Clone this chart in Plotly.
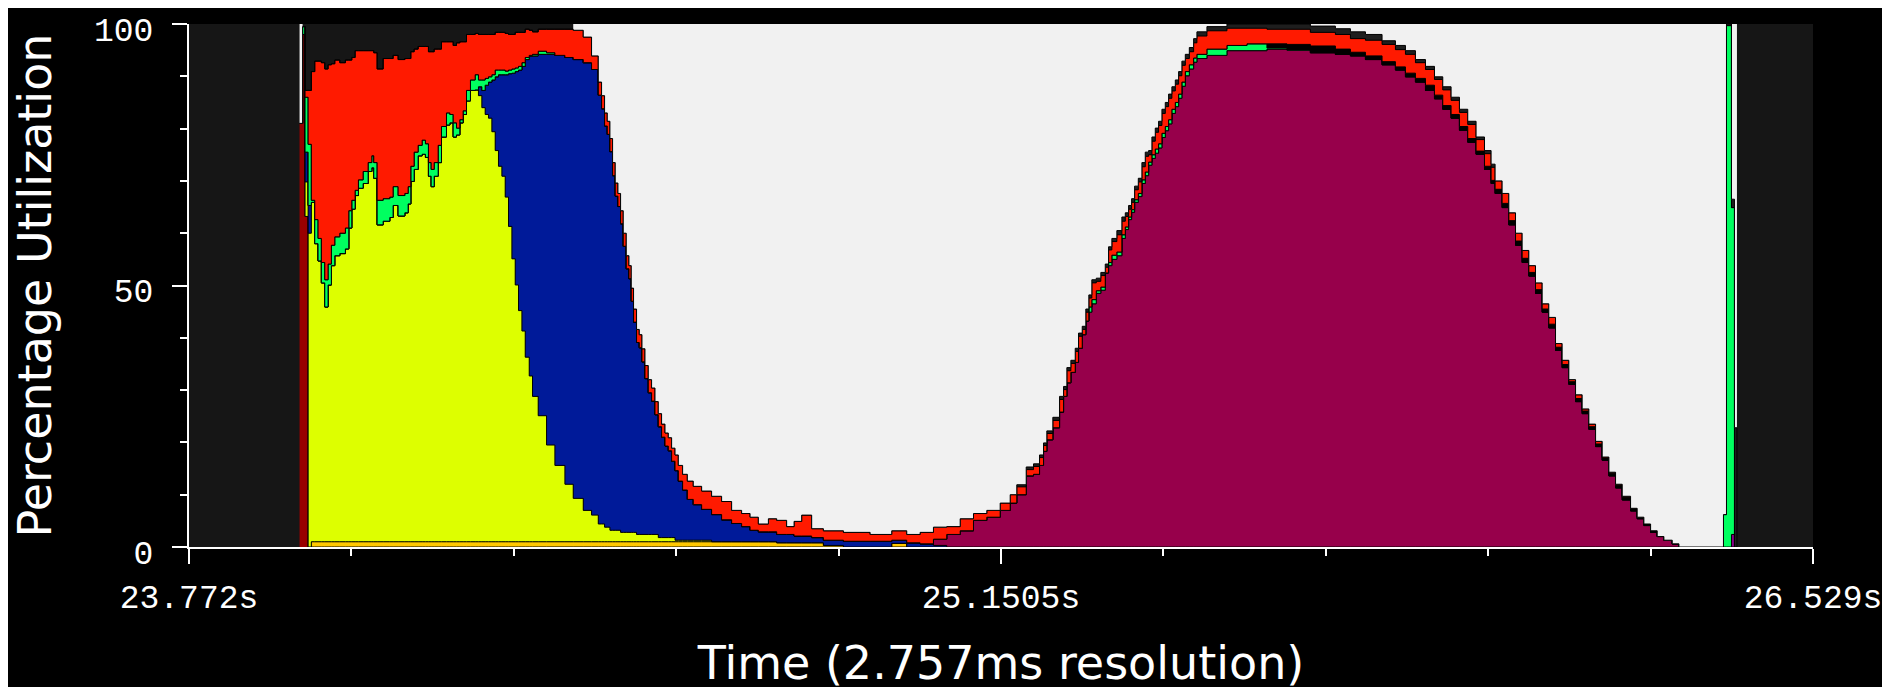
import plotly.graph_objects as go

# ---- data ----
time_s = [
    23.9597, 23.9648, 23.9690, 23.9742, 23.9797, 23.9855, 23.9911, 23.9967, 24.0025, 24.0081,
    24.0137, 24.0195, 24.0280, 24.0375, 24.0433, 24.0484, 24.0540, 24.0596, 24.0676, 24.0761,
    24.0824, 24.0857, 24.0914, 24.1016, 24.1129, 24.1185, 24.1270, 24.1384, 24.1440, 24.1486,
    24.1542, 24.1610, 24.1678, 24.1734, 24.1785, 24.1831, 24.1882, 24.1950, 24.2006, 24.2091,
    24.2149, 24.2205, 24.2261, 24.2318, 24.2374, 24.2431, 24.2498, 24.2578, 24.2634, 24.2692,
    24.2748, 24.2804, 24.2862, 24.2918, 24.2974, 24.3032, 24.3088, 24.3144, 24.3202, 24.3258,
    24.3314, 24.3372, 24.3428, 24.3496, 24.3552, 24.3648, 24.3790, 24.3932, 24.4102, 24.4243,
    24.4413, 24.4554, 24.4668, 24.4724, 24.4775, 24.4821, 24.4866, 24.4911, 24.4956, 24.5002,
    24.5047, 24.5092, 24.5143, 24.5189, 24.5228, 24.5267, 24.5318, 24.5364, 24.5410, 24.5461,
    24.5517, 24.5573, 24.5631, 24.5687, 24.5743, 24.5801, 24.5857, 24.5913, 24.5971, 24.6027,
    24.6100, 24.6180, 24.6281, 24.6423, 24.6592, 24.6762, 24.6932, 24.7102, 24.7245, 24.7386,
    24.7556, 24.7697, 24.7866, 24.7992, 24.8121, 24.8291, 24.8490, 24.8830, 24.9283, 24.9650,
    24.9905, 25.0132, 25.0358, 25.0584, 25.0812, 25.1038, 25.1264, 25.1491, 25.1661, 25.1773,
    25.1933, 25.2057, 25.2159, 25.2227, 25.2283, 25.2385, 25.2499, 25.2567, 25.2623, 25.2691,
    25.2765, 25.2821, 25.2884, 25.2945, 25.2996, 25.3047, 25.3122, 25.3200, 25.3275, 25.3331,
    25.3387, 25.3472, 25.3557, 25.3615, 25.3671, 25.3722, 25.3773, 25.3836, 25.3897, 25.3954,
    25.4011, 25.4067, 25.4124, 25.4180, 25.4237, 25.4294, 25.4350, 25.4406, 25.4464, 25.4520,
    25.4576, 25.4634, 25.4702, 25.4775, 25.4831, 25.5001, 25.5341, 25.5681, 25.6020, 25.6360,
    25.6757, 25.7182, 25.7437, 25.7692, 25.7974, 25.8201, 25.8371, 25.8541, 25.8711, 25.8864,
    25.9005, 25.9146, 25.9288, 25.9429, 25.9570, 25.9713, 25.9825, 25.9893, 26.0012, 26.0126,
    26.0240, 26.0352, 26.0466, 26.0579, 26.0692, 26.0805, 26.0919, 26.1031, 26.1145, 26.1259,
    26.1371, 26.1485, 26.1599, 26.1711, 26.1825, 26.1938, 26.2051, 26.2193, 26.2305, 26.2419,
    26.2533, 26.2645, 26.2759, 26.2900, 26.3014, 26.3770, 26.3821, 26.3906, 26.3957, 26.3999,
]

darkred = [81, 98, 63.2] + [0] * 227

orange = [0, 0, 0, 0] + [1] * 107 + [0.8] * 5 + [0.3, 0, 0, 0.7] + [0] * 110

yellow = [
    0, 0, 6.6, 60.0, 64.9, 57.0, 53.7, 49.5, 44.9, 49.1,
    52.8, 54.7, 55.1, 56.0, 60.0, 63.6, 66.2, 67.6, 68.5, 70.8,
    71.5, 69.5, 60.6, 61.3, 62.0, 64.3, 62.3, 62.9, 64.6, 68.9,
    71.2, 73.8, 74.1, 73.5, 69.9, 67.9, 69.9, 72.5, 77.4, 79.7,
    80.1, 77.4, 77.8, 80.1, 81.7, 84.3, 86.3, 86.4, 85.3, 83.0,
    81.7, 81.0, 78.4, 74.8, 71.8, 69.9, 65.9, 60.3, 54.1, 49.1,
    44.2, 40.3, 35.3, 31.7, 27.8, 24.1, 18.5, 14.6, 11.0, 8.3,
    6.0, 5.1, 3.4, 3.4, 2.8, 2.8, 2.2, 2.2, 2.2, 2.2,
    1.8, 1.8, 1.8, 1.8, 1.8, 1.8, 1.4, 1.4, 1.4, 1.4,
    1.4, 1.4, 1.4, 0.8, 0.8, 0.8, 0.8, 0.8, 0.3, 0.3,
    0.3, 0.3, 0.3, 0.3,
] + [0] * 126

blue = [0, 0, 5.7, 5.3] + [0] * 44 + [
    1.7, 3.3, 5.6, 6.9, 9.9, 14.1, 17.5, 19.4, 23.4, 29.2, 35.5, 40.8,
    46.0, 50.6, 56.9, 61.1, 65.1, 69.1, 74.7, 78.4, 81.6, 83.9,
    85.6, 85.2, 82.0, 79.4, 76.7, 75.1, 72.4, 67.8, 63.9, 61.9,
    59.0, 54.7, 50.4, 48.5, 44.2, 40.2, 36.7, 35.7, 33.0, 29.8,
    27.1, 25.5, 22.9, 21.2, 19.2, 17.5, 16.6, 14.6, 13.3, 11.3,
    9.6, 7.8, 6.8, 5.9, 5.2, 4.2, 3.5, 2.9, 2.2, 1.9,
    1.9, 1.6, 1.6, 1.3, 1.3, 1.0, 1.0, 1.1, 1.1, 0.6,
    0.8, 0.6, 0.3,
] + [0] * 107

maroon = [0] * 122 + [
    1.2, 2.4, 3.1, 5.1, 5.7, 7.0, 8.4, 10.0,
    13.6, 13.9, 15.6, 18.3, 20.5, 22.8, 25.8, 28.8, 31.4, 33.4,
    35.3, 38.0, 40.6, 43.2, 44.9, 46.5, 48.5, 49.1, 52.4, 53.8,
    55.0, 55.7, 59.0, 60.7, 62.6, 64.0, 65.9, 67.0, 69.5, 71.0,
    73.0, 74.3, 75.3, 76.3, 78.3, 79.6, 80.9, 82.9, 84.2, 85.8,
    88.1, 90.1, 91.4, 92.7, 93.4, 94.0, 94.9, 94.9, 95.2, 95.0,
    94.5, 94.2, 93.9, 93.2, 92.2, 91.2, 89.9, 88.9, 87.3, 85.7,
    83.7, 82.0, 79.7, 77.4, 75.1, 72.2, 69.5, 67.6, 64.9, 61.6,
    57.7, 54.4, 51.8, 48.5, 44.9, 41.9, 37.6, 34.3, 31.1, 27.8,
    25.5, 22.5, 19.2, 16.6, 13.6, 11.3, 9.0, 6.9, 5.4, 4.1,
    2.8, 2.0, 1.3, 0.6,
] + [0] * 6

purple = [0] * 227 + [2.4, 0, 0]

green = [
    0, 1.5, 10.5, 11.7, 0.4, 4.6, 4.3, 3.9, 5.2, 4.0,
    3.9, 3.6, 3.9, 4.0, 3.3, 1.7, 1.0, 1.6, 2.3, 1.7,
    2.3, 3.0, 4.7, 4.3, 3.9, 3.6, 3.9, 3.7, 3.3, 2.9,
    3.3, 2.0, 2.7, 2.6, 2.6, 3.3, 2.6, 3.3, 2.0, 2.3,
    1.6, 2.7, 1.3, 0.6, 0.7, 2.0, 2.0, 2.9, 1.3, 2.0,
    1.3, 1.0, 1.0, 1.3, 0.9, 0.9, 0.7, 0.7, 0.8, 0.7,
    0.7, 0.7, 0.4, 0.2, 0.3, 0.6, 0.3,
] + [0] * 77 + [
    1.0, 0.8, 0.5, 0.6, 0, 0.6, 0.8, 0.7, 0.7, 0.5, 0.5, 0.5, 0.5, 0.6, 0.7, 0.7,
    0.6, 0.7, 0.8, 0.8, 0.8, 0.8, 0.8, 0.8, 0.8, 0.8,
    0.8, 0.8, 0.8, 0.8, 0.8, 1.2, 1.0, 1.3, 0.2, 0.1,
] + [0] * 45 + [6.2, 99.7, 62.5, 0, 0]

sys_black = [0] * 178 + [
    0.8, 1.0, 1.3, 1.0, 0.7, 0.7, 0.6, 0.6, 0.7, 0.7, 1.0, 0.7,
    0.7, 0.7, 0.7, 0.7, 0.6, 0.6, 0.6, 0.8, 0.8, 0.8,
    0.8, 0.8, 0.7, 0.7, 0.6, 0.7, 0.6, 0.6, 0.5, 0.6,
    0.5, 0.5, 0.5, 0.4, 0.5, 0.5, 0.5, 0.5, 0.3, 0.3,
    0.3,
] + [0] * 9

red = [
    0, 0, 1.3, 10.3, 24.6, 30.3, 33.9, 38.2, 40.3, 38.1,
    34.7, 33.8, 32.6, 32.1, 28.8, 27.3, 26.7, 24.7, 23.1, 21.4,
    20.1, 21.0, 25.1, 26.8, 26.5, 25.1, 26.0, 25.8, 24.5, 21.9,
    19.7, 18.9, 17.9, 18.6, 21.2, 22.5, 21.7, 18.4, 16.2, 13.6,
    13.9, 14.8, 16.3, 14.9, 13.2, 10.7, 8.7, 7.9, 8.7, 8.7,
    8.4, 8.1, 7.7, 7.2, 7.2, 7.2, 7.2, 6.8, 6.6, 6.8,
    6.5, 5.8, 5.4, 4.8, 4.3, 4.2, 4.5, 5.0, 5.4, 5.6,
    4.9, 2.6, 2.5, 2.5, 2.5, 2.5, 2.5, 2.5, 2.5, 2.5,
    2.5, 2.5, 2.5, 2.5, 2.5, 2.5, 2.5, 2.5, 2.5, 2.5,
    2.5, 2.5, 2.5, 2.5, 2.5, 2.5, 2.5, 2.5, 3.0, 3.0,
    3.0, 3.5, 3.5, 3.5, 3.5, 3.5, 2.5, 2.5, 2.5, 1.5,
    2.5, 2.7, 1.5, 2.8, 4.0, 1.7, 1.8, 1.7, 1.3, 1.8,
    1.6, 2.2, 2.3, 1.5, 2.3, 1.3, 1.3, 1.4, 1.6, 1.5,
    1.2, 1.5, 1.5, 1.1, 1.2, 1.4, 2.4, 1.3, 2.3, 1.7,
    2.1, 2.3, 1.0, 1.7, 1.7, 3.2, 1.8, 2.2, 1.1, 2.4,
    2.6, 3.3, 2.6, 2.0, 1.5, 1.4, 1.9, 2.2, 2.5, 3.0,
    1.4, 2.6, 3.2, 3.5, 3.8, 3.8, 4.1, 3.5, 3.5, 3.5,
    3.2, 2.5, 2.5, 2.9, 3.5, 3.5, 3.3, 3.0, 2.8, 2.9,
    2.6, 2.8, 2.6, 3.0, 3.3, 3.3, 3.6, 3.0, 3.0, 3.0,
    3.0, 2.7, 2.7, 2.7, 2.2, 2.4, 2.5, 1.6, 1.9, 1.5,
    1.5, 1.5, 1.3, 1.3, 1.0, 1.3, 0.7, 0.8, 0.4, 0.7,
    0.4, 0.5, 0.5, 0.2, 0.2, 0.2, 0.2,
] + [0] * 13

other = [0] * 129 + [
    0.4, 0.5, 0.5, 0.5, 0.5, 0.5, 0.6, 0.6, 0.6, 0.6, 0.6,
    0.6, 0.6, 0.6, 0.6, 0.6, 0.6, 0.6, 0.6, 0.6, 0.6,
    0.6, 0.8, 0.8, 0.7, 0.7, 0.7, 0.7, 0.7, 0.8, 0.8,
] + [0.8] * 18 + [
    1.0, 1.0, 1.2, 1.1, 1.3, 1.1, 0.7, 0.8, 0.7, 0.6, 0.6, 0.5,
    0.6, 0.6, 0.6, 0.6, 0.5, 0.6, 0.6,
] + [0] * 29 + [0.3, 1.6, 22.8, 0]

idle = [19] + [0] * 68 + [
    1.2, 2.5, 6.1, 11.1, 13.7, 17.0, 18.6, 21.9, 26.5, 30.4, 32.4,
    35.7, 40.0, 44.3, 46.2, 50.5, 54.5, 58.4, 59.4, 62.1, 65.3,
    68.0, 69.6, 72.2, 74.5, 76.5, 78.2, 79.1, 81.1, 82.4, 84.4,
    86.1, 87.4, 88.4, 89.3, 90.3, 91.3, 93.0, 93.6, 94.3, 95.6,
    94.6, 94.9, 96.1, 95.1, 93.9, 96.5, 96.9, 97.2, 97.6, 96.9,
    97.6, 97.2, 96.2, 96.1, 94.6, 93.6, 93.0, 91.6, 90.0, 88.1,
    84.7, 84.1, 82.4, 80.1, 77.8, 75.2, 71.2, 69.3, 65.7, 64.3,
    62.0, 59.1, 57.8, 54.5, 51.8, 48.9, 48.6, 47.5, 45.9, 42.6,
    41.0, 39.5, 36.9, 36.1, 34.7, 33.4, 31.0, 29.5, 26.5, 24.5,
    24.2, 21.6, 19.9, 18.6, 16.3, 15.0, 13.4, 12.0, 10.7, 9.1,
    7.1, 5.8, 4.5, 2.8, 1.5, 0.5, 0, 0, 0, 0,
    0.4, 0.9, 1.5, 2.0, 3.2, 4.1, 5.1, 6.8, 8.1, 10.1,
    12.0, 14.0, 16.3, 18.6, 21.6, 24.2, 26.8, 30.0, 32.4, 36.1,
    40.0, 43.3, 46.2, 49.5, 53.5, 56.1, 61.1, 64.3, 68.0, 70.9,
    73.6, 76.5, 79.8, 82.8, 85.7, 88.0, 90.3, 92.6, 94.3, 95.6,
    96.9, 98.0, 98.7, 99.4, 100, 93.8, 0, 33.5, 77.2, 0,
]

x_tick_vals = [23.772, 25.1505, 26.529]
x_tick_text = ["23.772s", "25.1505s", "26.529s"]
y_tick_vals = [0, 50, 100]

# stack order bottom -> top: (name, values, colour)
series = [
    ("Dark red", darkred, "#990000"),
    ("Orange", orange, "#FFC800"),
    ("Yellow", yellow, "#DDFF00"),
    ("Blue", blue, "#001A99"),
    ("Maroon", maroon, "#97004B"),
    ("Purple", purple, "#880088"),
    ("Green", green, "#00FF60"),
    ("System", sys_black, "#000000"),
    ("Red", red, "#FF1A00"),
    ("Other", other, "#1E1E1E"),
    ("Idle", idle, "#F1F1F1"),
]

fig = go.Figure()
for name, vals, col in series:
    is_idle = name == "Idle"
    fig.add_trace(go.Scatter(
        x=time_s, y=vals, name=name, mode="lines",
        stackgroup="cpu", fillcolor=col,
        line=dict(shape="hv", color="#000000", width=0 if is_idle else 1),
        hoverinfo="skip" if is_idle else "x+y+name",
    ))

tick_font = dict(family="Liberation Mono", size=33, color="#FFFFFF")
title_font = dict(family="DejaVu Sans", size=46, color="#FFFFFF")

fig.update_layout(
    template="none",
    width=1890, height=687,
    margin=dict(l=181, r=85, t=16, b=148, autoexpand=False),
    paper_bgcolor="#000000",
    plot_bgcolor="#161616",
    showlegend=False,
    xaxis=dict(
        range=[23.772, 26.529], tickmode="array",
        tickvals=x_tick_vals, ticktext=x_tick_text,
        ticks="outside", ticklen=15, tickwidth=2, tickcolor="#FFFFFF",
        showline=True, linecolor="#FFFFFF", linewidth=2,
        showgrid=False, zeroline=False, automargin=False,
        tickfont=tick_font, ticklabelstandoff=4,
        minor=dict(tick0=23.772, dtick=0.2757, ticks="outside", ticklen=7,
                   tickwidth=2, tickcolor="#FFFFFF", showgrid=False),
        title=dict(text="Time (2.757ms resolution)", font=title_font, standoff=30),
    ),
    yaxis=dict(
        range=[0, 100], tickmode="array", tickvals=y_tick_vals,
        ticks="outside", ticklen=15, tickwidth=2, tickcolor="#FFFFFF",
        showline=True, linecolor="#FFFFFF", linewidth=2,
        showgrid=False, zeroline=False, automargin=False,
        tickfont=tick_font, ticklabelstandoff=12, ticklabelshift=5,
        ticklabeloverflow="allow",
        minor=dict(tick0=0, dtick=10, ticks="outside", ticklen=7,
                   tickwidth=2, tickcolor="#FFFFFF", showgrid=False),
        title=dict(text="Percentage Utilization", font=title_font, standoff=46),
    ),
)

fig.write_html("out.html")
